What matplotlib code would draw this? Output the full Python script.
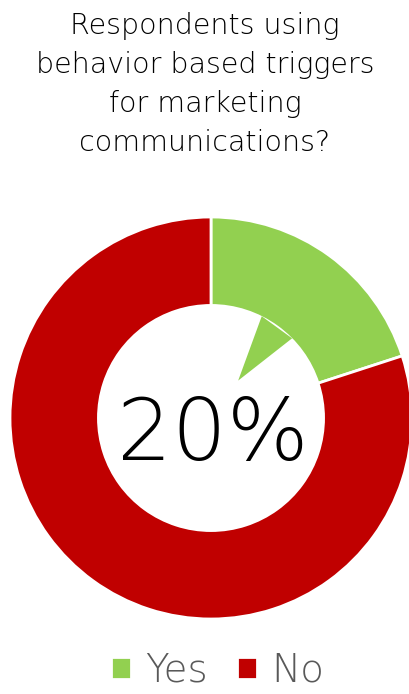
import numpy as np
import matplotlib
matplotlib.use("Agg")
import matplotlib.pyplot as plt
from matplotlib.patches import Polygon

LABELS = ["Yes", "No"]
VALUES = [20, 80]
COLORS = ["#92D050", "#C00000"]
TITLE_LINES = ["Respondents using", "behavior based triggers",
               "for marketing", "communications?"]
CENTER_TEXT = "20%"

W, H = 409, 694
plt.rcParams["font.family"] = ["DejaVu Sans"]
plt.rcParams["font.weight"] = 200

fig = plt.figure(figsize=(W / 100, H / 100), dpi=100)

# donut axes: centre at (211, 418) px from top-left, outer radius 201 px
R = 201
cx, cy = 211, 418
ax = fig.add_axes([(cx - R) / W, (H - cy - R) / H, 2 * R / W, 2 * R / H])

inner = 0.56
wedges, _ = ax.pie(VALUES, colors=COLORS, startangle=90, counterclock=False,
                   radius=1, wedgeprops=dict(width=1 - inner, edgecolor="white", linewidth=2))
ax.set_xlim(-1, 1)
ax.set_ylim(-1, 1)
ax.axis("off")

# callout pointer from the middle of the "Yes" slice toward the centre
mid = np.deg2rad(90 - 360 * (VALUES[0] / 2) / sum(VALUES))
half = np.deg2rad(9.5)
pts = [(inner * 1.01 * np.cos(mid - half), inner * 1.01 * np.sin(mid - half)),
       (0.23 * np.cos(mid), 0.23 * np.sin(mid)),
       (inner * 1.01 * np.cos(mid + half), inner * 1.01 * np.sin(mid + half))]
ax.add_patch(Polygon(pts, closed=True, color=COLORS[0], lw=0))

ax.text(0.01, -0.09, CENTER_TEXT, ha="center", va="center", fontsize=62,
        color="black")

# title, one line per baseline
for i, line in enumerate(TITLE_LINES):
    fig.text(205 / W, 1 - (34 + 39 * i) / H, line, ha="center", va="baseline",
             fontsize=20.5, color="black")

fig.legend(wedges, LABELS, loc="center", bbox_to_anchor=(218 / W, 1 - 671 / H),
           ncol=2, frameon=False, handlelength=0.5, handleheight=0.5,
           handletextpad=0.38, columnspacing=0.75, labelcolor="#595959",
           prop=dict(size=28, weight=200))

fig.savefig("out.png", dpi=100)
